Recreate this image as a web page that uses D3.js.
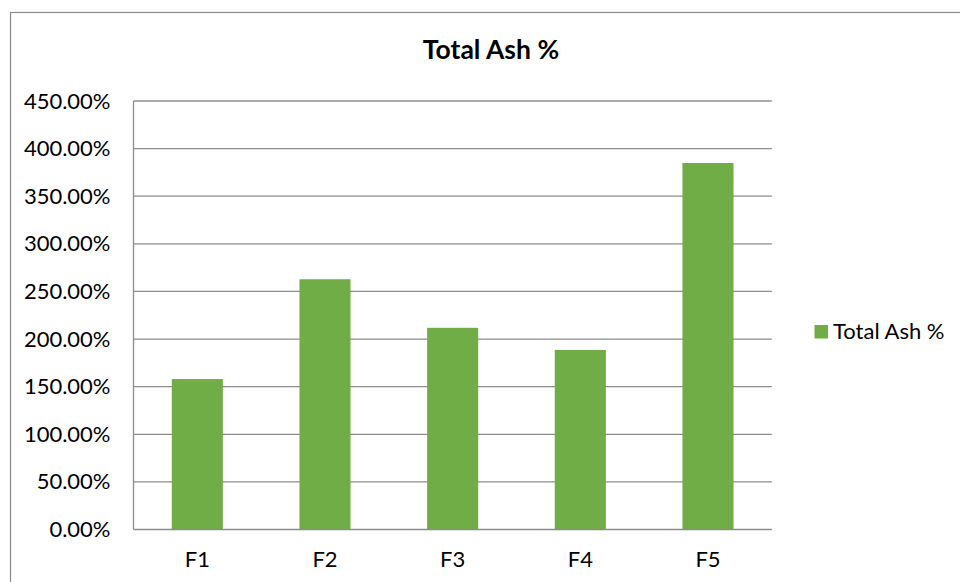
<!DOCTYPE html>
<html>
<head>
<meta charset="utf-8">
<script src="https://cdn.jsdelivr.net/npm/d3@7"></script>
<style>
  html, body { margin: 0; padding: 0; background: #fff; }
  svg { display: block; }
  text { font-family: Lato, "Open Sans", sans-serif; fill: #000; }
</style>
</head>
<body>
<svg id="chart" width="960" height="582"></svg>
<script>
const categories = ["F1", "F2", "F3", "F4", "F5"];
const values = [1.58, 2.628, 2.118, 1.885, 3.849];
const yTicks = [0, 0.5, 1.0, 1.5, 2.0, 2.5, 3.0, 3.5, 4.0, 4.5];
const seriesName = "Total Ash %";
const chartTitle = "Total Ash %";

const svg = d3.select("#chart");
const W = 960, H = 582;
const plot = { left: 133.5, right: 771.8, top: 101, bottom: 529.5 };
const barColor = "#70AD47";
const gridColor = "#8c8c8c";
const FONT = "Lato, 'Open Sans', sans-serif";

svg.append("rect").attr("width", W).attr("height", H).attr("fill", "#fff");

// outer chart border
svg.append("rect")
  .attr("x", 10.5).attr("y", 12.5)
  .attr("width", W + 20).attr("height", H + 20)
  .attr("fill", "none").attr("stroke", "#8c8c8c").attr("stroke-width", 1.2);

const x = d3.scaleBand()
  .domain(categories)
  .range([plot.left, plot.right])
  .paddingInner(0.6).paddingOuter(0.3);

const y = d3.scaleLinear().domain([0, 4.5]).range([plot.bottom, plot.top]);

// gridlines
svg.append("g").selectAll("line").data(yTicks.filter(d => d > 0)).join("line")
  .attr("x1", plot.left).attr("x2", plot.right)
  .attr("y1", d => y(d)).attr("y2", d => y(d))
  .attr("stroke", gridColor).attr("stroke-width", 1.3);

// bars
svg.append("g").selectAll("rect").data(values).join("rect")
  .attr("x", (d, i) => x(categories[i]))
  .attr("width", x.bandwidth())
  .attr("y", d => y(d))
  .attr("height", d => y(0) - y(d))
  .attr("fill", barColor);

// axes lines
svg.append("line")
  .attr("x1", plot.left).attr("x2", plot.left)
  .attr("y1", plot.top).attr("y2", plot.bottom)
  .attr("stroke", gridColor).attr("stroke-width", 1.3);
svg.append("line")
  .attr("x1", plot.left).attr("x2", plot.right)
  .attr("y1", plot.bottom).attr("y2", plot.bottom)
  .attr("stroke", gridColor).attr("stroke-width", 1.3);

// y labels via axis
const yAxis = d3.axisLeft(y).tickValues(yTicks)
  .tickFormat(d => (d * 100).toFixed(2) + "%")
  .tickSize(0).tickPadding(0);
const gy = svg.append("g").attr("transform", `translate(${plot.left - 23},0)`).call(yAxis);
gy.select(".domain").remove();
gy.selectAll("text").attr("font-size", "22px").attr("font-family", FONT).attr("fill", "#000");

// x labels via axis
const xAxis = d3.axisBottom(x).tickSize(0).tickPadding(0);
const gx = svg.append("g").attr("transform", `translate(0,${plot.bottom + 21.5})`).call(xAxis);
gx.select(".domain").remove();
gx.selectAll("text").attr("font-size", "22px").attr("font-family", FONT).attr("fill", "#000");

// title
svg.append("text")
  .attr("x", 491).attr("y", 58.5)
  .attr("text-anchor", "middle")
  .attr("font-size", "26.5px").attr("font-weight", "bold")
  .text(chartTitle);

// legend
svg.append("rect")
  .attr("x", 814.5).attr("y", 325).attr("width", 13.5).attr("height", 13.5)
  .attr("fill", barColor);
svg.append("text")
  .attr("x", 833).attr("y", 338.5)
  .attr("font-size", "22px")
  .text(seriesName);
</script>
</body>
</html>
